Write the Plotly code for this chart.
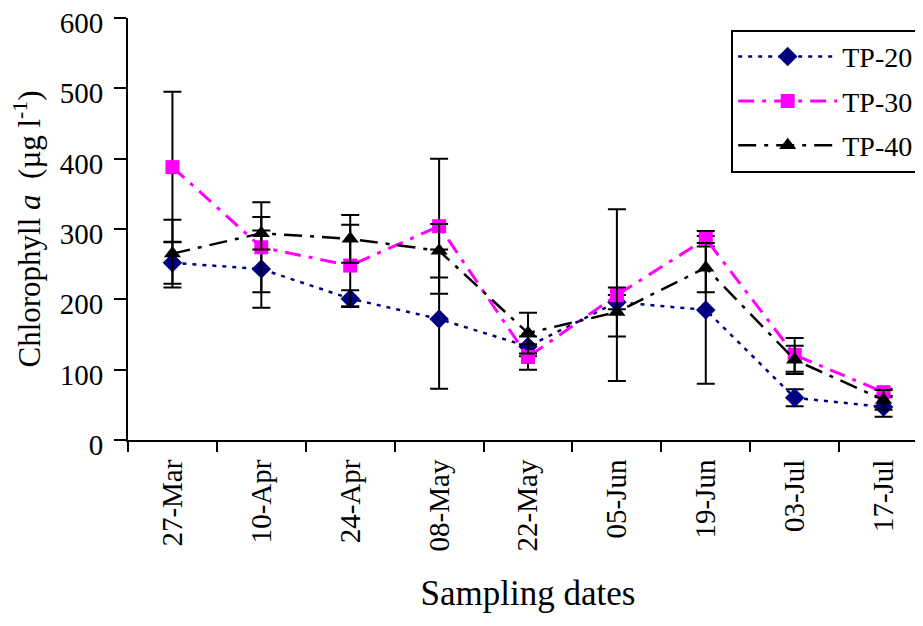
import plotly.graph_objects as go

dates = ["27-Mar", "10-Apr", "24-Apr", "08-May", "22-May", "05-Jun", "19-Jun", "03-Jul", "17-Jul"]
tp20 = [252, 243, 201, 172, 133, 196, 185, 60, 47]
tp20_err = [30, 55, 12, 99, 14, 10, 105, 12, 14]
tp30 = [388, 274, 248, 304, 118, 206, 286, 121, 68]
tp30_err = [107, 64, 58, 96, 18, 122, 11, 24, 5]
tp40 = [265, 294, 286, 269, 152, 182, 245, 114, 57]
tp40_err = [48, 23, 34, 38, 29, 35, 35, 20, 14]

FONT = "Liberation Serif"

def eb(vals):
    return dict(type="data", array=vals, visible=True, color="black", thickness=2, width=9)

fig = go.Figure()
fig.add_trace(go.Scatter(
    x=dates, y=tp20, name="TP-20", mode="lines+markers",
    line=dict(color="#000080", width=2.5, dash="4px,6px"),
    marker=dict(symbol="diamond", size=15, color="#000080"),
    error_y=eb(tp20_err), legendgroup="a"))
fig.add_trace(go.Scatter(
    x=dates, y=tp30, name="TP-30", mode="lines+markers",
    line=dict(color="#FF00FF", width=3, dash="16px,8px,4px,8px"),
    marker=dict(symbol="square", size=14, color="#FF00FF"),
    error_y=eb(tp30_err), legendgroup="b"))
fig.add_trace(go.Scatter(
    x=dates, y=tp40, name="TP-40", mode="lines+markers",
    line=dict(color="black", width=2.5, dash="18px,8px,4px,8px"),
    marker=dict(symbol="triangle-up", size=15, color="black"),
    error_y=eb(tp40_err), legendgroup="c"))

fig.update_layout(
    width=923, height=626,
    margin=dict(l=120, r=3, t=10, b=194, autoexpand=False),
    paper_bgcolor="white", plot_bgcolor="white",
    font=dict(family=FONT, color="black", size=22),
    showlegend=True,
    legend=dict(
        x=0.754, y=0.972, xanchor="left", yanchor="top",
        bgcolor="white", bordercolor="black", borderwidth=2,
        font=dict(family=FONT, size=28, color="black"),
        itemwidth=99, tracegroupgap=5,
    ),
    xaxis=dict(
        type="category", range=[-0.5, 8.5], automargin=False,
        showline=True, linecolor="black", linewidth=2,
        ticks="outside", ticklen=10, tickwidth=2, tickcolor="black",
        tickson="boundaries", tickangle=-90, ticklabelstandoff=6,
        tickfont=dict(family=FONT, size=29, color="black"),
        showgrid=False, zeroline=False,
        title=dict(text="Sampling dates", font=dict(family=FONT, size=35, color="black"), standoff=30),
    ),
    yaxis=dict(
        range=[0, 600], tickvals=[0, 100, 200, 300, 400, 500, 600], automargin=False,
        showline=True, linecolor="black", linewidth=2,
        ticks="outside", ticklen=12, tickwidth=2, tickcolor="black",
        ticklabelstandoff=5, ticklabelshift=5, ticklabeloverflow="allow",
        tickfont=dict(family=FONT, size=29, color="black"),
        showgrid=False, zeroline=False,
        title=dict(text="Chlorophyll <i>a</i>  (µg l<sup>-1</sup>)", font=dict(family=FONT, size=31, color="black"), standoff=25),
    ),
)

fig.write_html("out.html")
